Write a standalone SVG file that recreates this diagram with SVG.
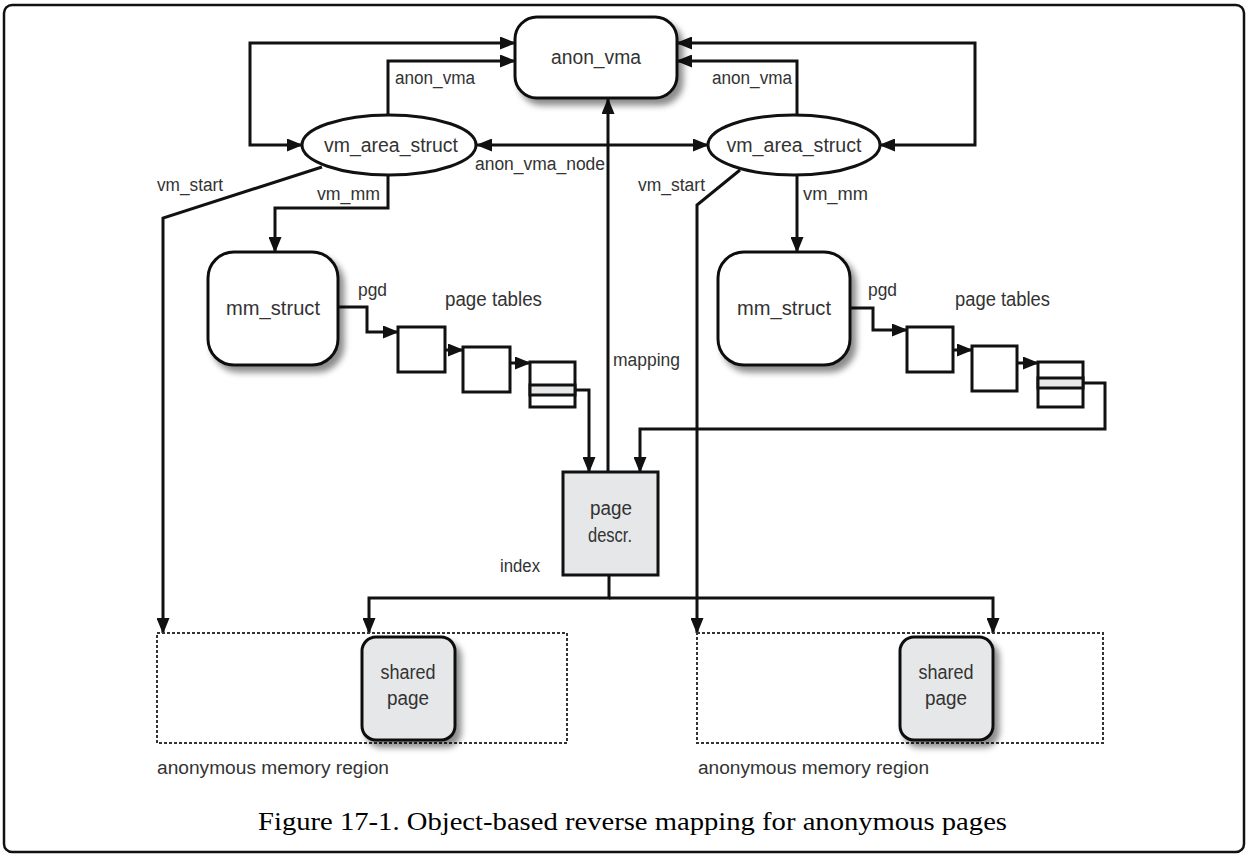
<svg xmlns="http://www.w3.org/2000/svg" width="1250" height="856" viewBox="0 0 1250 856">
<defs>
<marker id="arr" viewBox="0 0 16 13" refX="15" refY="6.5" markerWidth="16" markerHeight="13" markerUnits="userSpaceOnUse" orient="auto-start-reverse">
<path d="M0,0 L16,6.5 L0,13 Z" fill="#111"/>
</marker>
<filter id="sh" x="-20%" y="-20%" width="150%" height="150%">
<feDropShadow dx="5" dy="6" stdDeviation="3" flood-color="#000" flood-opacity="0.45"/>
</filter>
</defs>
<style>
.ln{fill:none;stroke:#111;stroke-width:3}
.nd{fill:#fff;stroke:#111;stroke-width:3}
.gr{fill:#e6e7e8;stroke:#111;stroke-width:3}
.t{font-family:"Liberation Sans",Arial,sans-serif;fill:#333}
.big{font-size:20px}
.sm{font-size:18px}
.cap{font-family:"Liberation Serif","Times New Roman",serif;font-size:26px;fill:#000}
.dash{fill:none;stroke:#333;stroke-width:2;stroke-dasharray:3 2}
</style>
<rect x="4" y="5" width="1240" height="847" rx="8" fill="#fff" stroke="#111" stroke-width="2.5"/>

<g id="connectors">
<path class="ln" d="M515,43 H250 V145 H302" marker-start="url(#arr)" marker-end="url(#arr)"/>
<path class="ln" d="M388,115 V61 H515" marker-end="url(#arr)"/>
<path class="ln" d="M677,43 H975 V145 H880" marker-start="url(#arr)" marker-end="url(#arr)"/>
<path class="ln" d="M797,115 V61 H677" marker-end="url(#arr)"/>
<path class="ln" d="M477,145 H708" marker-start="url(#arr)" marker-end="url(#arr)"/>
<path class="ln" d="M388,175 V208 H275 V252" marker-end="url(#arr)"/>
<path class="ln" d="M797,175 V252" marker-end="url(#arr)"/>
<path class="ln" d="M322,167 L163,218 V633" marker-end="url(#arr)"/>
<path class="ln" d="M740,170 L697,205 V633" marker-end="url(#arr)"/>
<path class="ln" d="M608,472 V99" marker-end="url(#arr)"/>
<path class="ln" d="M338,307 H367 V332 H398" marker-end="url(#arr)"/>
<path class="ln" d="M437,350 H463" marker-end="url(#arr)"/>
<path class="ln" d="M503,363 H530" marker-end="url(#arr)"/>
<path class="ln" d="M568,390 H589 V472" marker-end="url(#arr)"/>
<path class="ln" d="M850,308 H873 V330 H907" marker-end="url(#arr)"/>
<path class="ln" d="M943,350 H972" marker-end="url(#arr)"/>
<path class="ln" d="M1010,363 H1038" marker-end="url(#arr)"/>
<path class="ln" d="M1077,383 H1105 V429 H640 V472" marker-end="url(#arr)"/>
<path class="ln" d="M609,575 V598 H369 V633" marker-end="url(#arr)"/>
<path class="ln" d="M609,598 H993 V633" marker-end="url(#arr)"/>
<text class="t sm" x="395" y="84" textLength="80" lengthAdjust="spacingAndGlyphs">anon_vma</text>
<text class="t sm" x="712" y="84" textLength="80" lengthAdjust="spacingAndGlyphs">anon_vma</text>
<text class="t sm" x="475" y="170" textLength="130" lengthAdjust="spacingAndGlyphs">anon_vma_node</text>
<text class="t sm" x="157" y="191" textLength="66" lengthAdjust="spacingAndGlyphs">vm_start</text>
<text class="t sm" x="638" y="191" textLength="67" lengthAdjust="spacingAndGlyphs">vm_start</text>
<text class="t sm" x="317" y="200" textLength="63" lengthAdjust="spacingAndGlyphs">vm_mm</text>
<text class="t sm" x="803" y="200" textLength="65" lengthAdjust="spacingAndGlyphs">vm_mm</text>
<text class="t sm" x="358" y="296" textLength="29" lengthAdjust="spacingAndGlyphs">pgd</text>
<text class="t sm" x="868" y="296" textLength="29" lengthAdjust="spacingAndGlyphs">pgd</text>
<text class="t sm" x="613" y="366" textLength="67" lengthAdjust="spacingAndGlyphs">mapping</text>
<text class="t sm" x="500" y="572" textLength="40" lengthAdjust="spacingAndGlyphs">index</text>
</g>

<g id="anon_vma">
<rect class="nd" x="515" y="17" width="162" height="81" rx="22" filter="url(#sh)"/>
<text class="t big" x="596" y="64" text-anchor="middle" textLength="90" lengthAdjust="spacingAndGlyphs">anon_vma</text>
</g>
<g id="vma_left">
<ellipse class="nd" cx="389" cy="145" rx="87" ry="30"/>
<text class="t big" x="391" y="152" text-anchor="middle" textLength="134" lengthAdjust="spacingAndGlyphs">vm_area_struct</text>
</g>
<g id="vma_right">
<ellipse class="nd" cx="794" cy="145" rx="86" ry="30"/>
<text class="t big" x="794" y="152" text-anchor="middle" textLength="135" lengthAdjust="spacingAndGlyphs">vm_area_struct</text>
</g>
<g id="mm_left">
<rect class="nd" x="208" y="252" width="130" height="113" rx="26" filter="url(#sh)"/>
<text class="t big" x="273" y="315" text-anchor="middle" textLength="94" lengthAdjust="spacingAndGlyphs">mm_struct</text>
</g>
<g id="mm_right">
<rect class="nd" x="718" y="252" width="132" height="113" rx="26" filter="url(#sh)"/>
<text class="t big" x="784" y="315" text-anchor="middle" textLength="94" lengthAdjust="spacingAndGlyphs">mm_struct</text>
</g>
<g id="pt_left">
<text class="t big" x="445" y="306" textLength="97" lengthAdjust="spacingAndGlyphs">page tables</text>
<rect class="nd" x="398" y="327" width="47" height="45"/>
<rect class="nd" x="463" y="347" width="47" height="45"/>
<rect class="nd" x="530" y="362" width="45" height="45"/>
<rect x="530" y="385" width="45" height="10" fill="#e6e7e8" stroke="#111" stroke-width="3"/>
</g>
<g id="pt_right">
<text class="t big" x="955" y="306" textLength="95" lengthAdjust="spacingAndGlyphs">page tables</text>
<rect class="nd" x="907" y="327" width="46" height="45"/>
<rect class="nd" x="972" y="346" width="45" height="45"/>
<rect class="nd" x="1038" y="362" width="45" height="45"/>
<rect x="1038" y="378" width="45" height="10" fill="#e6e7e8" stroke="#111" stroke-width="3"/>
</g>
<g id="page_descr">
<rect class="gr" x="563" y="472" width="95" height="103"/>
<text class="t big" x="611" y="515" text-anchor="middle" textLength="42" lengthAdjust="spacingAndGlyphs">page</text>
<text class="t big" x="610" y="542" text-anchor="middle" textLength="44" lengthAdjust="spacingAndGlyphs">descr.</text>
</g>
<g id="region_left">
<rect class="dash" x="157" y="633" width="410" height="110"/>
<rect class="gr" x="362" y="637" width="93" height="103" rx="14" filter="url(#sh)"/>
<text class="t big" x="408" y="679" text-anchor="middle" textLength="55" lengthAdjust="spacingAndGlyphs">shared</text>
<text class="t big" x="408" y="705" text-anchor="middle" textLength="42" lengthAdjust="spacingAndGlyphs">page</text>
<text class="t sm" x="157" y="774" textLength="232" lengthAdjust="spacingAndGlyphs">anonymous memory region</text>
</g>
<g id="region_right">
<rect class="dash" x="697" y="633" width="406" height="110"/>
<rect class="gr" x="900" y="637" width="93" height="103" rx="14" filter="url(#sh)"/>
<text class="t big" x="946" y="679" text-anchor="middle" textLength="55" lengthAdjust="spacingAndGlyphs">shared</text>
<text class="t big" x="946" y="705" text-anchor="middle" textLength="42" lengthAdjust="spacingAndGlyphs">page</text>
<text class="t sm" x="698" y="774" textLength="231" lengthAdjust="spacingAndGlyphs">anonymous memory region</text>
</g>
<text class="cap" x="258" y="830" textLength="749" lengthAdjust="spacingAndGlyphs">Figure 17-1. Object-based reverse mapping for anonymous pages</text>
</svg>
